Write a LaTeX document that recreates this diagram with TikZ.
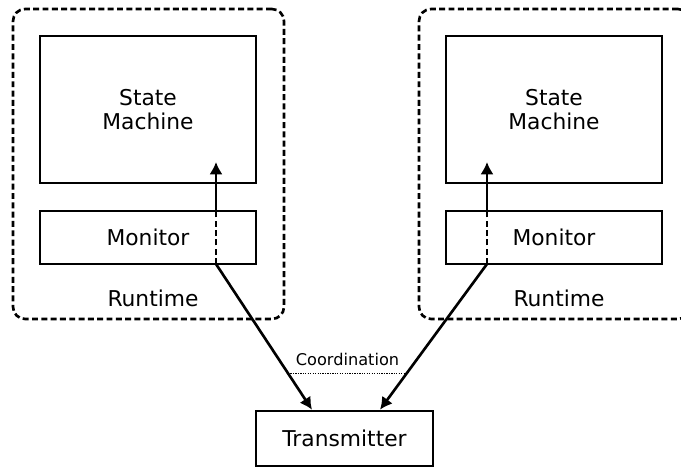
\documentclass[tikz,border=0pt]{standalone}
\usepackage{fontspec}
\setmainfont{DejaVu Sans}
\usetikzlibrary{arrows.meta}
\tikzset{
   runtime/.style={draw, rounded corners=0.24cm, minimum width=5.42cm,
      minimum height=6.2cm, dash pattern=on 3.4pt off 1.9pt},
   block/.style={draw, align=center, font=\fontsize{12.4}{14}\selectfont},
   plain/.style={font=\fontsize{12.4}{14}\selectfont},
   coordline/.style={line width=0.5pt, dash pattern=on 0.7pt off 0.7pt},
   tip/.style={-{Latex[length=7pt, width=7.5pt]}}
}
\begin{document}
\begin{tikzpicture}[x=0.02cm, y=-0.02cm, line width=1.5pt]
   \useasboundingbox (0,0) rectangle (681,468);
   \begin{scope}
      \clip (0,0) rectangle (681,468);
      \foreach \s / \dx / \ax in {l/0/216, r/406/487} {
         \node[runtime] (rt\s) at ({148.5+\dx},164) {};
         \node[block, minimum width=4.32cm, minimum height=2.94cm] (sm\s)
            at ({148+\dx},109.5) {State\\Machine};
         \node[block, minimum width=4.32cm, minimum height=1.06cm] (mon\s)
            at ({148+\dx},237.5) {Monitor};
         \node[plain] (rl\s) at ({153+\dx},298) {Runtime};
         \coordinate (j\s) at (\ax,264);
         \coordinate (m\s) at (\ax,211);
         \coordinate (t\s) at (\ax,162);
         \draw[dash pattern=on 3.4pt off 1.9pt] (j\s) -- (m\s);
         \draw[tip] (m\s) -- (t\s);
      }
   \end{scope}
   \node[block, minimum width=3.54cm, minimum height=1.1cm] (tx)
      at (344.5,438.5) {Transmitter};
   \draw[tip] (jl) -- ([xshift=-0.65cm]tx.north);
   \draw[tip] (jr) -- ([xshift=0.71cm]tx.north);
   % coordination between the two runtimes
   \coordinate (cl) at (288,373);
   \coordinate (cr) at (407,373);
   \draw[coordline] (cl) -- node[above=0.5pt, font=\fontsize{9.2}{11}\selectfont] (co)
      {Coordination} (cr);
\end{tikzpicture}
\end{document}
